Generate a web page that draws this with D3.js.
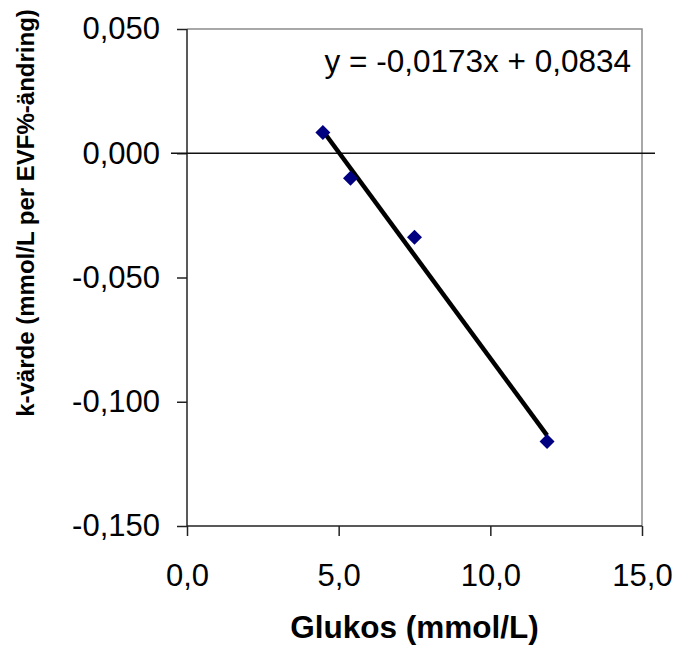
<!DOCTYPE html>
<html lang="sv">
<head>
    <meta charset="UTF-8">
    <title>k-värde mot glukos</title>
    <script src="https://d3js.org/d3.v7.min.js"></script>
<style>
    body { margin: 0; background: #fff; }
    svg { display: block; font-family: "Liberation Sans", Arial, sans-serif; }
</style>
</head>
<body>
</body>
<script>

// data
const glukos = [4.48, 5.39, 7.50, 11.87];          // mmol/L
const kVarde = [0.0083, -0.0101, -0.0338, -0.1160];
const xTicks = [0, 5, 10, 15];
const yTicks = [0.05, 0, -0.05, -0.1, -0.15];
const equationText = 'y = -0,0173x + 0,0834';

const width = 692, height = 646;
const plot = { left: 187, right: 642, top: 29, bottom: 526 };

const svg = d3.select('body').append('svg')
    .attr('width', width)
    .attr('height', height);

const x = d3.scaleLinear().domain([0, 15]).range([plot.left, plot.right]);
const y = d3.scaleLinear().domain([-0.15, 0.05]).range([plot.bottom, plot.top]);

const sv = d3.formatLocale({ decimal: ',', thousands: ' ', grouping: [3], currency: ['', ''], minus: '-' });

// plot area frame (grey top/right)
svg.append('path')
    .attr('d', `M${x(0)},${y(0.05)}H${x(15)}V${y(-0.15)}`)
    .attr('fill', 'none')
    .attr('stroke', '#8c8c8c')
    .attr('stroke-width', 1.5);

// axes
const yAxis = svg.append('g')
    .attr('transform', `translate(${plot.left},0)`)
    .call(d3.axisLeft(y).tickValues(yTicks).tickSize(10).tickPadding(17).tickFormat(sv.format('.3f')));

const xAxis = svg.append('g')
    .attr('transform', `translate(0,${plot.bottom})`)
    .call(d3.axisBottom(x).tickValues(xTicks).tickSize(10).tickPadding(28).tickFormat(sv.format('.1f')));

[yAxis, xAxis].forEach(g => {
    g.select('.domain').attr('stroke', '#222').attr('stroke-width', 1.5);
    g.selectAll('.tick line').attr('stroke', '#222').attr('stroke-width', 1.5);
    g.selectAll('.tick text')
        .attr('fill', '#000')
        .style('font-size', '31px')
        .style('font-family', '"Liberation Sans", Arial, sans-serif');
});
yAxis.select('.domain').attr('d', `M0,${plot.top}V${plot.bottom}`);
xAxis.select('.domain').attr('d', `M${plot.left},0H${plot.right}`);

// zero line, runs a bit past the frame on both sides
svg.append('line')
    .attr('x1', x(0) - 16).attr('x2', x(15) + 13)
    .attr('y1', y(0)).attr('y2', y(0))
    .attr('stroke', '#111')
    .attr('stroke-width', 1.5);

// linear trendline (least squares) between min and max x
const pts = glukos.map((g, i) => ({ gx: g, ky: kVarde[i] }));
const mx = d3.mean(glukos), my = d3.mean(kVarde);
const slope = d3.sum(pts, p => (p.gx - mx) * (p.ky - my)) / d3.sum(pts, p => (p.gx - mx) ** 2);
const icpt = my - slope * mx;
const [x0, x1] = d3.extent(glukos);

svg.append('line')
    .attr('x1', x(x0)).attr('y1', y(icpt + slope * x0))
    .attr('x2', x(x1)).attr('y2', y(icpt + slope * x1))
    .attr('stroke', '#000')
    .attr('stroke-width', 4.5);

// diamond markers
svg.append('g')
    .selectAll('path')
    .data(pts)
    .join('path')
    .attr('transform', d => `translate(${x(d.gx)},${y(d.ky)})`)
    .attr('d', 'M0,-7.5L7.5,0L0,7.5L-7.5,0Z')
    .attr('fill', '#000080');

// equation
svg.append('text')
    .attr('x', x(15) - 11)
    .attr('y', y(0.0325))
    .attr('text-anchor', 'end')
    .style('font-size', '31.5px')
    .text(equationText);

// axis titles
svg.append('text')
    .attr('x', (plot.left + plot.right) / 2)
    .attr('y', 638)
    .attr('text-anchor', 'middle')
    .style('font-size', '31.5px')
    .style('font-weight', 'bold')
    .text('Glukos (mmol/L)');

svg.append('text')
    .attr('transform', 'translate(34,213) rotate(-90)')
    .attr('text-anchor', 'middle')
    .style('font-size', '24px')
    .style('font-weight', 'bold')
    .text('k-värde (mmol/L per EVF%-ändring)');

</script>
</html>
